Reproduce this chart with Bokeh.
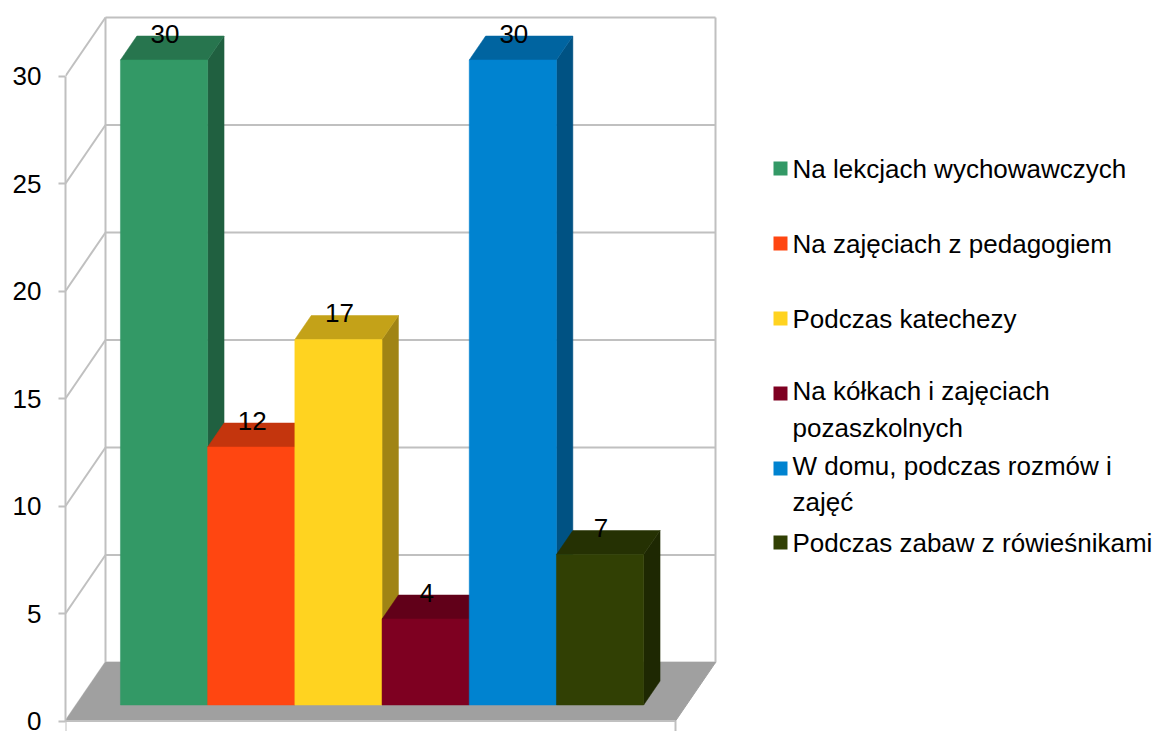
import numpy as np
from bokeh.plotting import figure
from bokeh.models import Range1d, FixedTicker, ColumnDataSource
from bokeh.embed import file_html
from bokeh.resources import INLINE
from bokeh.core.properties import value

# ---------------- data ----------------
series = [
    "Na lekcjach wychowawczych",
    "Na zajęciach z pedagogiem",
    "Podczas katechezy",
    "Na kółkach i zajęciach\npozaszkolnych",
    "W domu, podczas rozmów i\nzajęć",
    "Podczas zabaw z rówieśnikami",
]
values = [30, 12, 17, 4, 30, 7]
colors = ["#339966", "#ff4611", "#ffd320", "#7e0021", "#0083d0", "#314004"]
y_ticks = [0, 5, 10, 15, 20, 25, 30]

# ---------------- layout ----------------
W, H = 1164, 731
K = 21.5            # px per value unit
Y0 = 720.5          # screen y of value 0 on front plane
FX0, FX1 = 65, 675  # floor front edge x extent
DX, DY = 40, 58.5   # depth offset in px
DV = DY / K         # depth offset in value units
D1, D2 = 16 / DY, 40 / DY   # bar front / back depth fractions
BX0, BW = 109.0, 87.2       # bar start (at front plane) and width
FONT = "Liberation Sans"
FS = "26px"
VMAX = max(y_ticks)


def vy(y_screen):
    return (Y0 - y_screen) / K


def P(X, v, d):
    return X + DX * d, v + DV * d


def shade(hexc, f):
    h = hexc.lstrip("#")
    r, g, b = (int(h[i:i + 2], 16) for i in (0, 2, 4))
    return "#%02x%02x%02x" % (int(r * f), int(g * f), int(b * f))


p = figure(
    width=W, height=H,
    x_range=Range1d(FX0, W),
    y_range=Range1d(vy(H), vy(0)),
    x_axis_type=None,
    output_backend="svg", toolbar_location=None,
    min_border_left=FX0, min_border_right=0, min_border_top=0, min_border_bottom=0,
)
p.outline_line_color = None
p.grid.visible = False
p.background_fill_color = "white"
p.border_fill_color = "white"

GRID = "#c0c0c0"

# walls: back gridlines, left-wall diagonals, vertical edges
xs, ys = [], []
for v in y_ticks:
    a, b = P(FX0, v, 1), P(FX1, v, 1)
    xs.append([a[0], b[0]]); ys.append([a[1], b[1]])
    a, b = P(FX0, v, 0), P(FX0, v, 1)
    xs.append([a[0], b[0]]); ys.append([a[1], b[1]])
for X in (FX0, FX1):
    a, b = P(X, 0, 1), P(X, VMAX, 1)
    xs.append([a[0], b[0]]); ys.append([a[1], b[1]])
p.multi_line(xs, ys, line_color=GRID, line_width=2)

# floor
fl = [P(FX0, 0, 0), P(FX1, 0, 0), P(FX1, 0, 1), P(FX0, 0, 1)]
p.patch([q[0] for q in fl], [q[1] for q in fl], fill_color="#a0a0a0", line_color="#a0a0a0", line_width=1)

# category axis line and end ticks
p.multi_line([[FX0, FX1], [FX0, FX0], [FX1, FX1]],
             [[0, 0], [0, vy(H)], [0, vy(H)]], line_color=GRID, line_width=2)

# bars (side, top, front per bar, drawn left to right)
pxs, pys, pcs = [], [], []
for i, (val, c) in enumerate(zip(values, colors)):
    x0 = BX0 + i * BW
    x1 = x0 + BW
    side = [P(x1, 0, D1), P(x1, val, D1), P(x1, val, D2), P(x1, 0, D2)]
    top = [P(x0, val, D1), P(x1, val, D1), P(x1, val, D2), P(x0, val, D2)]
    front = [P(x0, 0, D1), P(x1, 0, D1), P(x1, val, D1), P(x0, val, D1)]
    for poly, col in ((side, shade(c, 0.63)), (top, shade(c, 0.77)), (front, c)):
        pxs.append([q[0] for q in poly]); pys.append([q[1] for q in poly]); pcs.append(col)
p.patches(xs="xs", ys="ys", fill_color="c", line_color="c", line_width=0.5,
          source=ColumnDataSource(dict(xs=pxs, ys=pys, c=pcs)))

# data labels
lx = [BX0 + (i + 0.5) * BW + DX * D1 + 1 for i in range(len(values))]
ly = [v + DV * D2 + 2.5 / K for v in values]
p.text(lx, ly, text=[str(v) for v in values], text_align="center", text_baseline="middle",
       text_font=value(FONT), text_font_size=FS, text_color="black")

# y axis
ax = p.yaxis[0]
ax.ticker = FixedTicker(ticks=y_ticks)
ax.bounds = (0, VMAX)
ax.axis_line_color = GRID
ax.axis_line_width = 2
ax.major_tick_line_color = GRID
ax.major_tick_line_width = 2
ax.major_tick_out = 7
ax.major_tick_in = 0
ax.minor_tick_line_color = None
ax.major_label_text_font = FONT
ax.major_label_text_font_size = FS
ax.major_label_text_color = "black"
ax.major_label_standoff = 17

# legend
leg_y = [168, 243, 318, 409, 483.5, 542]
leg_sq_y = [168, 243, 318, 393, 468, 542]
p.scatter([780] * len(series), [vy(y) for y in leg_sq_y], marker="square", size=14,
          fill_color=colors, line_color=None)
p.text([792] * len(series), [vy(y) for y in leg_y], text=series, text_align="left",
       text_baseline="middle", text_font=value(FONT), text_font_size=FS,
       text_color="black", text_line_height=1.22)

open("out.html", "w").write(file_html(p, INLINE))
